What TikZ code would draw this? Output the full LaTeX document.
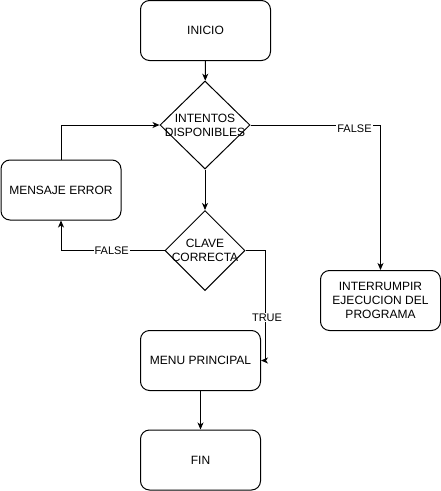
\documentclass[tikz,border=0pt]{standalone}
\usepackage{fontspec}
\setmainfont{Liberation Sans}
\usepackage{tikz}
\usetikzlibrary{arrows.meta, positioning, shapes.geometric, calc}

\begin{document}
\begin{tikzpicture}[
    x=1pt, y=-1pt,
    every node/.style={font=\fontsize{12}{14}\selectfont},
    proc/.style={draw, rounded corners=9pt, minimum width=120pt, minimum height=60pt,
                 inner sep=2pt, align=center},
    cond/.style={draw, diamond, inner sep=0pt},
    lbl/.style={fill=white, inner sep=1pt, font=\fontsize{11}{13}\selectfont},
    arr/.style={-{Stealth[length=7pt, width=6pt, inset=2pt]}, line width=1pt},
]
    \useasboundingbox (0,0) rectangle (441,491);
    \tikzset{every path/.style={line width=1pt}}

    % boxes down the middle
    \node[proc, minimum width=130pt] (inicio) at (205.5, 30.5) {INICIO};
    \node[cond, minimum width=90pt, minimum height=88pt,
          label={[align=center]center:INTENTOS\\DISPONIBLES}] (intentos) at (205, 125) {};
    \node[cond, minimum width=80pt, minimum height=80pt,
          label={[align=center]center:CLAVE\\CORRECTA}] (clave) at (205, 250.5) {};
    \node[proc] (menu) at (200.5, 360.5) {MENU PRINCIPAL};
    \node[proc] (fin) at (200.5, 460) {FIN};

    % side boxes
    \node[proc] (mensaje) at (61, 190) {MENSAJE ERROR};
    \node[proc] (interr) at (380.5, 300.5) {INTERRUMPIR\\EJECUCION DEL\\PROGRAMA};

    % turning points for the TRUE branch
    \coordinate (tcorner) at (265, 250.5);
    \coordinate (tbend) at (265, 360.5);

    % connectors
    \draw[arr] (intentos.east) -| node[lbl, pos=0.4, yshift=-4pt] {FALSE} (interr.north);
    \draw[arr] (inicio) -- (intentos);
    \draw[arr] (intentos) -- (clave);
    \draw[arr] (clave.west) -| node[lbl, pos=0.255] {FALSE} (mensaje.south);
    \draw[arr] (mensaje.north) |- (intentos.west);
    \draw[arr] (clave.east) -- (tcorner) -- node[lbl, pos=0.61, xshift=2pt] {TRUE} (tbend) -- (menu.east);
    \draw[arr] (menu) -- (fin);
\end{tikzpicture}
\end{document}
